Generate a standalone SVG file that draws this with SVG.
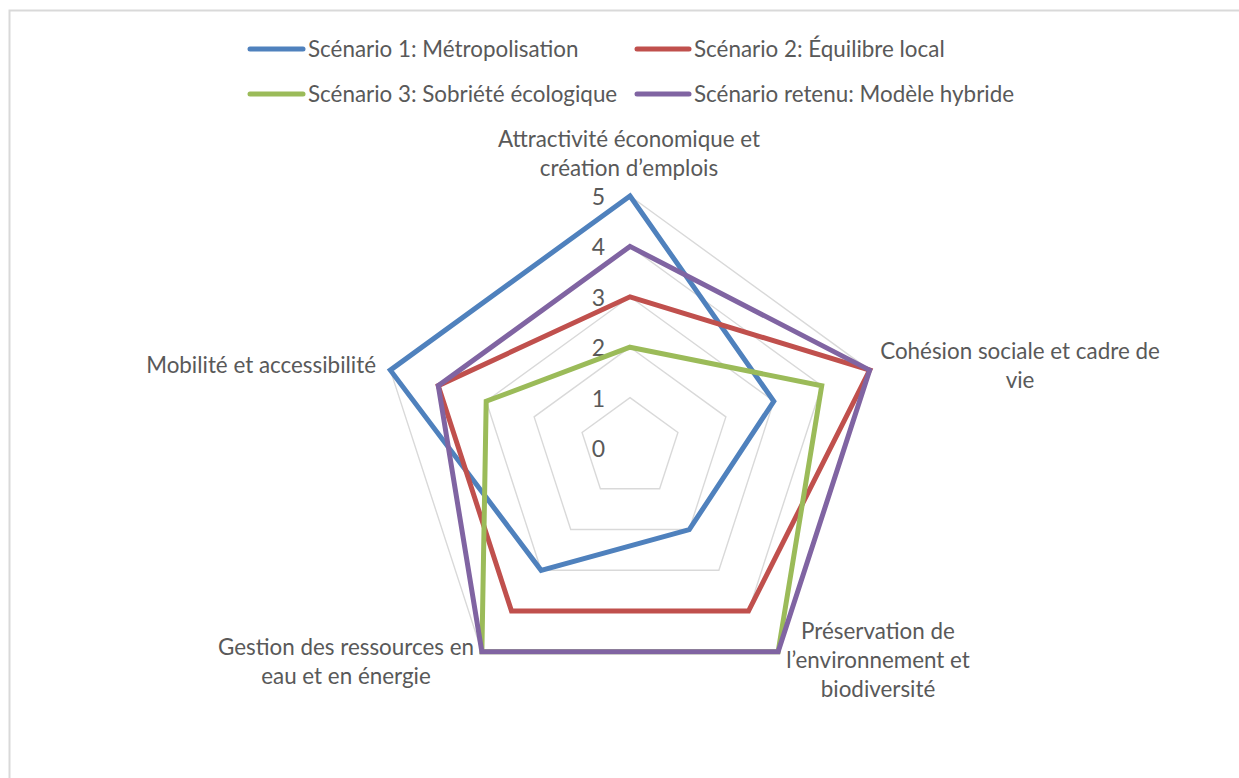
<svg xmlns="http://www.w3.org/2000/svg" width="1239" height="778" viewBox="0 0 1239 778">
<style>
text{font-family:Lato,"Open Sans","Liberation Sans",sans-serif;font-size:22.4px;fill:#595959}
.t{font-size:23px}
.grid{fill:none;stroke:#d9d9d9;stroke-width:1.4}
.s{fill:none;stroke-width:5;stroke-linejoin:miter}
.leg{stroke-width:5;stroke-linecap:round}
.c{text-anchor:middle}
.e{text-anchor:end}
</style>
<rect width="1239" height="778" fill="#fff"/>
<path d="M9.5,778 V10.5 H1239" fill="none" stroke="#d9d9d9" stroke-width="2"/>
<g id="grid">
<polygon class="grid" points="630,397.6 677.93,432.43 659.62,488.77 600.38,488.77 582.07,432.43"/>
<polygon class="grid" points="630,347.2 725.87,416.85 689.25,529.55 570.75,529.55 534.13,416.85"/>
<polygon class="grid" points="630,296.8 773.8,401.28 718.87,570.32 541.13,570.32 486.2,401.28"/>
<polygon class="grid" points="630,246.4 821.73,385.7 748.5,611.1 511.5,611.1 438.27,385.7"/>
<polygon class="grid" points="630,196 869.67,370.13 778.12,651.87 481.88,651.87 390.33,370.13"/>
</g>
<g id="ticks">
<text class="e t" x="605" y="457">0</text>
<text class="e t" x="605" y="406.6">1</text>
<text class="e t" x="605" y="356.2">2</text>
<text class="e t" x="605" y="305.8">3</text>
<text class="e t" x="605" y="255.4">4</text>
<text class="e t" x="605" y="205">5</text>
</g>
<g id="connectors">
<polygon id="s1" class="s" stroke="#4f81bd" points="630,196 773.8,401.28 689.25,529.55 541.13,570.32 390.33,370.13"/>
<polygon id="s2" class="s" stroke="#c0504d" points="630,296.8 869.67,370.13 748.5,611.1 511.5,611.1 438.27,385.7"/>
<polygon id="s3" class="s" stroke="#9bbb59" points="630,347.2 821.73,385.7 778.12,651.87 481.88,651.87 486.2,401.28"/>
<polygon id="s4" class="s" stroke="#8064a2" points="630,246.4 869.67,370.13 778.12,651.87 481.88,651.87 438.27,385.7"/>
</g>
<g id="axis-attractivite">
<text class="c" x="629" y="147">Attractivité économique et</text>
<text class="c" x="629" y="176">création d’emplois</text>
</g>
<g id="axis-cohesion">
<text class="c" x="1020" y="359">Cohésion sociale et cadre de</text>
<text class="c" x="1020" y="388">vie</text>
</g>
<g id="axis-preservation">
<text class="c" x="878" y="639">Préservation de</text>
<text class="c" x="878" y="668">l’environnement et</text>
<text class="c" x="878" y="697">biodiversité</text>
</g>
<g id="axis-gestion">
<text class="c" x="346" y="655">Gestion des ressources en</text>
<text class="c" x="346" y="684">eau et en énergie</text>
</g>
<g id="axis-mobilite">
<text class="e" x="376" y="373">Mobilité et accessibilité</text>
</g>
<g id="legend">
<line class="leg" stroke="#4f81bd" x1="250" y1="49" x2="303" y2="49"/>
<text x="308" y="57">Scénario 1: Métropolisation</text>
<line class="leg" stroke="#c0504d" x1="637" y1="49" x2="689" y2="49"/>
<text x="694" y="57">Scénario 2: Équilibre local</text>
<line class="leg" stroke="#9bbb59" x1="250" y1="94" x2="303" y2="94"/>
<text x="308" y="102">Scénario 3: Sobriété écologique</text>
<line class="leg" stroke="#8064a2" x1="637" y1="94" x2="689" y2="94"/>
<text x="694" y="102">Scénario retenu: Modèle hybride</text>
</g>
</svg>
